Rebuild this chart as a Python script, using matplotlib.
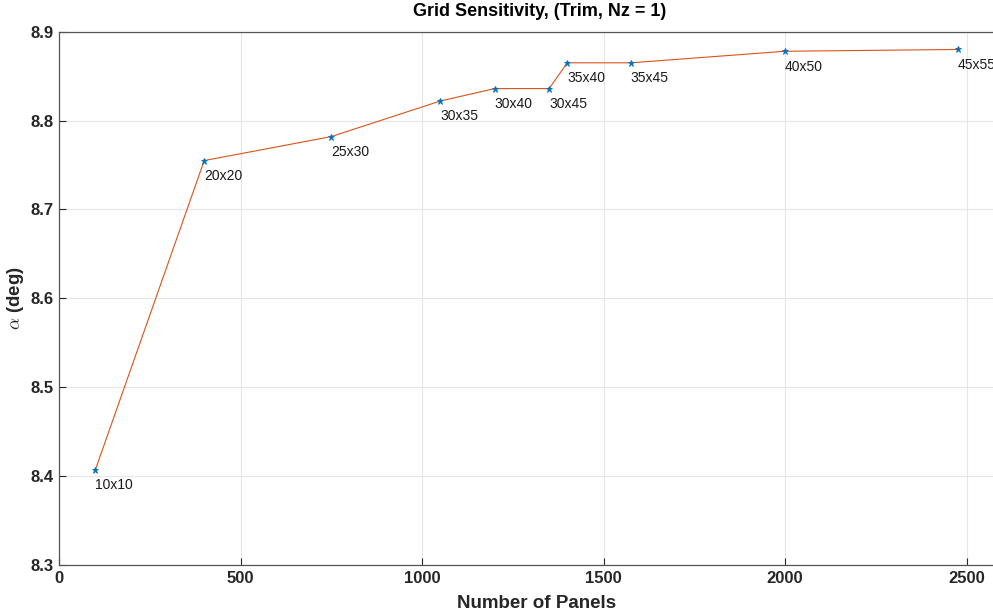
import matplotlib
matplotlib.use("Agg")
import matplotlib.pyplot as plt

panels = [100, 400, 750, 1050, 1200, 1350, 1400, 1575, 2000, 2475]
alpha = [8.407, 8.755, 8.782, 8.822, 8.836, 8.836, 8.865, 8.865, 8.878, 8.880]
grid_labels = ["10x10", "20x20", "25x30", "30x35", "30x40", "30x45",
               "35x40", "35x45", "40x50", "45x55"]
xticks = [0, 500, 1000, 1500, 2000, 2500]
yticks = [8.3, 8.4, 8.5, 8.6, 8.7, 8.8, 8.9]

plt.rcParams['font.family'] = ['Liberation Sans', 'DejaVu Sans']
plt.rcParams['mathtext.fontset'] = 'cm'

fig = plt.figure(figsize=(9.93, 6.16), dpi=100)
ax = fig.add_axes([59/993, 51/616, 1 - 59/993 + 0.01, (565-31.7)/616])

ax.plot(panels, alpha, color='#D95319', lw=0.8, zorder=3)
ax.plot(panels, alpha, ls='none', marker='*', ms=4.5, color='#0072BD',
        markeredgewidth=0.6, zorder=4)
for xv, yv, lab in zip(panels, alpha, grid_labels):
    ax.annotate(lab, (xv, yv), xytext=(0, -11), textcoords='offset points',
                ha='left', va='center', fontsize=10, color='#1a1a1a')

ax.set_xlim(0, 2600)
ax.set_ylim(8.3, 8.9)
ax.set_xticks(xticks)
ax.set_yticks(yticks)
ax.set_xticklabels([str(t) for t in xticks], fontweight='bold', fontsize=12)
ax.set_yticklabels([f"{t:.1f}" for t in yticks], fontweight='bold', fontsize=12)
ax.tick_params(direction='in', length=5, width=0.8, color='#262626',
               labelcolor='#262626', pad=4)
ax.grid(True, color='#e6e6e6', lw=0.8)
ax.set_axisbelow(True)
for s in ['left', 'bottom', 'top']:
    ax.spines[s].set_color('#555555')
    ax.spines[s].set_linewidth(0.9)
ax.spines['right'].set_visible(False)

ax.set_ylabel(r"$\alpha$ (deg)", fontweight='bold', fontsize=13.5, color='#262626', labelpad=3)
fig.text(537/993, 1 - 604/616, "Number of Panels", ha='center', va='center',
         fontweight='bold', fontsize=13.5, color='#262626')
fig.text(540/993, 1 - 12/616, "Grid Sensitivity, (Trim, Nz = 1)", ha='center', va='center',
         fontweight='bold', fontsize=13, color='#000000')

fig.savefig("out.png", dpi=100)
